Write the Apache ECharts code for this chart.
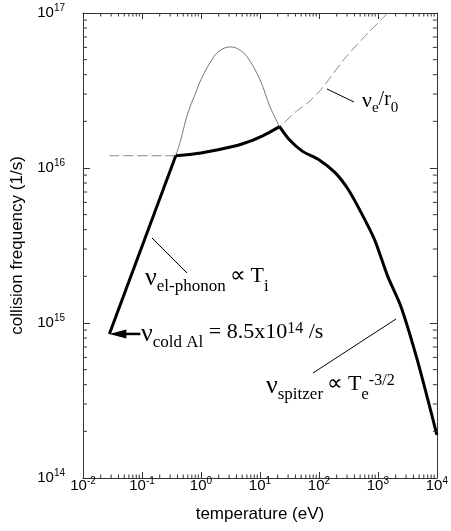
<!DOCTYPE html>
<html>
<head>
<meta charset="utf-8">
<script src="https://cdn.jsdelivr.net/npm/echarts@6/dist/echarts.min.js"></script>
<style>
  html, body { margin: 0; padding: 0; background: #fff; }
  #main { width: 451px; height: 531px; }
</style>
</head>
<body>
<div id="main"></div>
<script>
// total collision frequency (thick curve)
var thickT = [0.028, 0.374, 1.0, 3.6, 7.8, 12.9, 21.5, 31.6, 52.9, 100, 190, 316, 528, 881, 1468, 2455, 4640, 10000];
var thickNu = [8.5e14, 1.2e16, 1.25e16, 1.38e16, 1.52e16, 1.66e16, 1.85e16, 1.52e16, 1.28e16, 1.13e16, 9.3e15, 7.24e15, 5.1e15, 3.44e15, 2.0e15, 1.28e15, 5.8e14, 1.9e14];

// thin bump curve
var peakT = [0.374, 0.45, 0.6, 0.8, 1.0, 1.67, 2.3, 3.16, 4.3, 6.0, 10, 14.7, 21.5];
var peakNu = [1.2e16, 1.5e16, 2.27e16, 3.0e16, 3.72e16, 5.25e16, 5.85e16, 6.04e16, 5.85e16, 5.25e16, 3.72e16, 2.5e16, 1.85e16];

// v_e / r_0 (dashed)
var dashT = [0.028, 0.374, 1.0, 3.6, 7.8, 12.9, 21.5, 41.4, 64, 114, 279, 681, 1380, 1466];
var dashNu = [1.2e16, 1.2e16, 1.25e16, 1.38e16, 1.52e16, 1.66e16, 1.85e16, 2.32e16, 2.62e16, 3.28e16, 5.13e16, 7.43e16, 9.75e16, 1.0e17];

var xDecades = [-2, -1, 0, 1, 2, 3];
var yDecades = [14, 15, 16];
var minorSteps = [2, 3, 4, 5, 6, 7, 8, 9];

function pairs(xs, ys, from, to) {
  var out = [];
  for (var i = from; i <= to; i++) out.push([xs[i], ys[i]]);
  return out;
}

function expLabel(v) {
  var e = Math.round(Math.log(v) / Math.LN10);
  return "{a|10}{b|" + e + "}";
}

function labelRich() {
  return {
    a: { fontSize: 15, lineHeight: 20, fontFamily: "Liberation Sans", color: "#000" },
    b: { fontSize: 10, lineHeight: 10, verticalAlign: "top", fontFamily: "Liberation Sans", color: "#000" }
  };
}

var chart = echarts.init(document.getElementById("main"));

function axisX(pos, showLabel) {
  return {
    type: "log", logBase: 10, min: 0.01, max: 10000, interval: 1, position: pos,
    name: showLabel ? "temperature (eV)" : "",
    nameLocation: "middle", nameGap: 28,
    nameTextStyle: { fontSize: 17, fontFamily: "Liberation Sans", color: "#000" },
    axisLine: { lineStyle: { color: "#333", width: 1 } },
    axisTick: { inside: true, length: 6, lineStyle: { color: "#333" } },
    axisLabel: { show: showLabel, formatter: expLabel, margin: -2, rich: labelRich() },
    splitLine: { show: false }
  };
}
function axisY(pos, showLabel) {
  return {
    type: "log", logBase: 10, min: 1e14, max: 1e17, interval: 1, position: pos,
    name: showLabel ? "collision frequency (1/s)" : "",
    nameLocation: "middle", nameGap: 51,
    nameTextStyle: { fontSize: 17, fontFamily: "Liberation Sans", color: "#000" },
    axisLine: { lineStyle: { color: "#333", width: 1 } },
    axisTick: { inside: true, length: 7, lineStyle: { color: "#333" } },
    axisLabel: { show: showLabel, formatter: expLabel, margin: 18, rich: labelRich() },
    splitLine: { show: false }
  };
}

var option = {
  animation: false,
  backgroundColor: "#fff",
  grid: { left: 83, right: 8, top: 13, bottom: 53 },
  xAxis: [axisX("bottom", true), axisX("top", false)],
  yAxis: [axisY("left", true), axisY("right", false)],
  series: [
    { type: "line", data: pairs(dashT, dashNu, 0, dashT.length - 1), symbol: "none", smooth: 0.25,
      lineStyle: { color: "#888", width: 1, type: [10, 4] }, z: 1 },
    { type: "line", data: pairs(peakT, peakNu, 0, peakT.length - 1), symbol: "none", smooth: 0.35,
      lineStyle: { color: "#555", width: 0.8 }, z: 2 },
    { type: "line", data: pairs(thickT, thickNu, 0, 1), symbol: "none",
      lineStyle: { color: "#000", width: 3 }, z: 3 },
    { type: "line", data: pairs(thickT, thickNu, 1, 6), symbol: "none", smooth: 0.25,
      lineStyle: { color: "#000", width: 3 }, z: 3 },
    { type: "line", data: pairs(thickT, thickNu, 6, thickT.length - 1), symbol: "none", smooth: 0.25,
      lineStyle: { color: "#000", width: 3 }, z: 3 }
  ]
};

chart.setOption(option);

function toPx(x, y) {
  var p = chart.convertToPixel({ gridIndex: 0 }, [x, y]);
  return [+p[0], +p[1]];
}

var graphics = [];
var n = 0;
function seg(x1, y1, x2, y2, w, color) {
  graphics.push({ id: "g" + (n++), type: "line", z: 10, silent: true,
    shape: { x1: x1, y1: y1, x2: x2, y2: y2 }, style: { stroke: color || "#000", lineWidth: w || 1 } });
}

// minor ticks on all four sides
var c0 = toPx(0.01, 1e14), c1 = toPx(10000, 1e17);
var gLeft = c0[0], gBottom = c0[1], gRight = c1[0], gTop = c1[1];
xDecades.forEach(function (k) {
  minorSteps.forEach(function (m) {
    var px = toPx(m * Math.pow(10, k), 1e15)[0];
    seg(px, gBottom, px, gBottom - 3.5, 1, "#333");
    seg(px, gTop, px, gTop + 3.5, 1, "#333");
  });
});
yDecades.forEach(function (k) {
  minorSteps.forEach(function (m) {
    var py = toPx(1, m * Math.pow(10, k))[1];
    seg(gLeft, py, gLeft + 4, py, 1, "#333");
    seg(gRight, py, gRight - 4, py, 1, "#333");
  });
});

// annotation text
var serif = "Liberation Serif";
function annRich() {
  return {
    v: { fontSize: 26, lineHeight: 30, fontFamily: serif, verticalAlign: "top" },
    m: { fontSize: 22, lineHeight: 30, fontFamily: serif, verticalAlign: "top" },
    s: { fontSize: 17, lineHeight: 21, fontFamily: serif, verticalAlign: "bottom" },
    p: { fontSize: 16, lineHeight: 18, fontFamily: serif, verticalAlign: "top" },
    v2: { fontSize: 22, lineHeight: 26, fontFamily: serif, verticalAlign: "top" },
    m2: { fontSize: 20, lineHeight: 26, fontFamily: serif, verticalAlign: "top" },
    s2: { fontSize: 15, lineHeight: 18, fontFamily: serif, verticalAlign: "bottom" }
  };
}
function ann(text, x, y) {
  graphics.push({ id: "g" + (n++), type: "text", z: 10, silent: true,
    style: { text: text, x: x, y: y, align: "left", verticalAlign: "top", rich: annRich(), fill: "#000" } });
}
ann("{v|\u03bd}{s|el-phonon}{m|\u2009\u221d\u2009T}{s|i}", 145, 265);
ann("{v|\u03bd}{s|cold Al}{m| = 8.5x10}{p|14}{m| /s}", 141, 321);
ann("{v|\u03bd}{s|spitzer}{m|\u2009\u221d\u2009T}{s|e}{p|-3/2}", 266, 373);
ann("{v2|\u03bd}{s2|e}{m2|/r}{s2|0}", 362, 90);

// pointer lines
seg(327, 89, 354, 102);
seg(152, 238, 187, 273);
seg(313, 373, 396, 319);

// arrow to the cold aluminium value
var tip = toPx(thickT[0], thickNu[0]);
seg(tip[0] + 14, tip[1], tip[0] + 31, tip[1], 2.5);
graphics.push({ id: "g" + (n++), type: "polygon", z: 10, silent: true,
  shape: { points: [[tip[0], tip[1]], [tip[0] + 17, tip[1] - 4.5], [tip[0] + 17, tip[1] + 4.5]] },
  style: { fill: "#000" } });

chart.setOption({ graphic: { elements: graphics } });
</script>
</body>
</html>
